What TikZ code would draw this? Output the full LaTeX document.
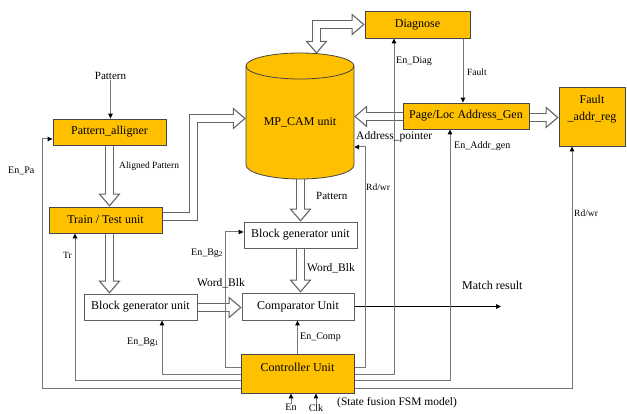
\documentclass[tikz,border=0pt]{standalone}
\usepackage{fontspec}
\setmainfont{Liberation Serif}
\usetikzlibrary{arrows.meta,calc,backgrounds}
\definecolor{boxfill}{RGB}{255,192,0}
\definecolor{edgecol}{RGB}{70,70,70}
\definecolor{wirecol}{RGB}{120,120,120}
\definecolor{hcol}{RGB}{100,100,100}
\tikzset{
 ybox/.style={draw=edgecol, fill=boxfill, line width=0.8pt, inner sep=0pt, font=\fontsize{12}{14}\selectfont},
 wbox/.style={draw=gray!75!black, fill=white, line width=0.8pt, inner sep=0pt, font=\fontsize{12}{14}\selectfont},
 lbl/.style={inner sep=0pt, font=\fontsize{10}{12}\selectfont},
 wire/.style={draw=wirecol, line width=1pt, -{Triangle[length=5pt,width=4.5pt,color=black]}},
 hhead/.style={draw=hcol, line width=1.1pt, -{Triangle[length=13pt,width=22pt,fill=white]}},
 hshaft/.style={draw=hcol, line width=1.1pt, double=white, double distance=6.6pt, line join=miter},
 hclean/.style={draw=white, line width=6.4pt, line join=miter},
}
% #1 path, #2 point before the end, #3 end point
\newcommand\harrow[3]{%
  \draw[hhead] ($(#3)!14pt!(#2)$) -- (#3);
  \draw[hshaft, shorten >=12.4pt] #1;
  \draw[hclean, shorten >=10pt] #1;}
% #1 path, #2 start, #3 point after start, #4 point before end, #5 end
\newcommand\hdarrow[5]{%
  \draw[hhead] ($(#2)!14pt!(#3)$) -- (#2);
  \draw[hhead] ($(#5)!14pt!(#4)$) -- (#5);
  \draw[hshaft, shorten >=12.4pt, shorten <=12.4pt] #1;
  \draw[hclean, shorten >=10pt, shorten <=10pt] #1;}
\begin{document}
\begin{tikzpicture}[x=1pt,y=-1pt]
\useasboundingbox (0,0) rectangle (627,414);

% cylinder (MP_CAM unit)
\fill[boxfill] (246,66) -- (246,165) arc[start angle=180,end angle=360,x radius=54pt,y radius=14pt]
  -- (354,66) arc[start angle=0,end angle=180,x radius=54pt,y radius=13pt] -- cycle;
\draw[edgecol,line width=0.8pt] (246,66) -- (246,165) arc[start angle=180,end angle=360,x radius=54pt,y radius=14pt] -- (354,66);
\draw[edgecol,line width=0.8pt] (300,66) ellipse[x radius=54pt,y radius=13pt];
\node[inner sep=0pt, minimum width=108pt, text height=73pt, text depth=53pt, font=\fontsize{12}{14}\selectfont] (cam) at (300,116) {MP\_CAM unit};

% boxes
\node[ybox, minimum width=105pt, minimum height=27pt] (diag) at (417.5,24.5) {Diagnose};
\node[ybox, minimum width=126pt, minimum height=26pt] (pag) at (466,116) {Page/Loc Address\_Gen};
\node[ybox, minimum width=66pt, minimum height=59pt] (far) at (592,116.5) {};
\node[inner sep=0pt, align=center, font=\fontsize{12}{17}\selectfont] (fartxt) at (592,109) {Fault\\\_addr\_reg};
\node[ybox, minimum width=113pt, minimum height=26pt] (pa) at (109.5,132) {Pattern\_alligner};
\node[ybox, minimum width=113pt, minimum height=26pt] (tt) at (105.5,220) {Train / Test unit};
\node[wbox, minimum width=113pt, minimum height=26pt] (bgl) at (140.5,307) {Block generator unit};
\node[wbox, minimum width=113pt, minimum height=26pt] (bgu) at (300.5,235) {Block generator unit};
\node[wbox, minimum width=112pt, minimum height=27pt] (cmp) at (298,306.5) {Comparator Unit};
\node[ybox, minimum width=113pt, text height=17pt, text depth=22pt] (ctl) at (297.5,373.5) {Controller Unit};

% corner and end coordinates
\coordinate (j1) at (193.5,118.5);
\coordinate (a1e) at (pa.south |- tt.north);
\coordinate (a2s) at ([yshift=3.5pt]tt.east);
\coordinate (a2e) at (j1 -| cam.west);
\coordinate (a3e) at ([xshift=16.5pt,yshift=-1pt]cam.north);
\coordinate (a3c) at (a3e |- diag.west);
\coordinate (a4s) at ([yshift=-0.5pt]pag.west);
\coordinate (a4e) at (a4s -| cam.east);
\coordinate (a5s) at ([yshift=-1.5pt]pag.east);
\coordinate (a5e) at (a5s -| far.west);
\coordinate (a6s) at ([yshift=4pt]cam.south -| bgu.north);
\coordinate (a7e) at (bgu.south |- cmp.north);
\coordinate (a8s) at (pa.south |- tt.south);
\coordinate (a8e) at (pa.south |- bgl.north);
\coordinate (a9s) at ([yshift=-0.5pt]bgl.east);
\coordinate (a9e) at (a9s -| cmp.west);
\coordinate (kpa) at (42,388);
\coordinate (ktr) at (75,380);
\coordinate (kb1) at (162,374);
\coordinate (kb2) at (225,367);
\coordinate (krw) at (365,367);
\coordinate (kap) at (365,147);
\coordinate (kdg) at (394,374);
\coordinate (kag) at (450,380);
\coordinate (kfr) at (572,388);
\coordinate (kfl) at (463,0);
\coordinate (mres) at (501,306.5);
\coordinate (ken) at (291,404);
\coordinate (kclk) at (316,404);

% labels
\node[lbl, font=\fontsize{11}{13}\selectfont] (ptn) at (110.5,76) {Pattern};
\node[lbl, anchor=west, font=\fontsize{9.5}{11}\selectfont] (lal) at (119,166) {Aligned Pattern};
\node[lbl, anchor=west] (lepa) at (8,171) {En\_Pa};
\node[lbl, anchor=west, font=\fontsize{9.5}{11}\selectfont] (ltr) at (63,255) {Tr};
\node[lbl, anchor=west] (lbg1) at (127,342) {En\_Bg\textsubscript{1}};
\node[lbl, anchor=west] (lbg2) at (191,253) {En\_Bg\textsubscript{2}};
\node[lbl, anchor=west, font=\fontsize{11.5}{13}\selectfont] (lwb1) at (197,283) {Word\_Blk};
\node[lbl, anchor=west, font=\fontsize{11}{13}\selectfont] (lpt2) at (316,196) {Pattern};
\node[lbl, anchor=west, font=\fontsize{11.5}{13}\selectfont] (lwb2) at (307,268) {Word\_Blk};
\node[lbl, anchor=west] (lcmp) at (300,337) {En\_Comp};
\node[lbl, anchor=west, font=\fontsize{12}{14}\selectfont] (lmr) at (462,285) {Match result};
\node[lbl, anchor=west, font=\fontsize{9.5}{11}\selectfont] (lrw1) at (574,213) {Rd/wr};
\node[lbl, anchor=west, font=\fontsize{9.5}{11}\selectfont] (lrw2) at (366,187) {Rd/wr};
\node[lbl, anchor=west, font=\fontsize{11.5}{13}\selectfont] (lap) at (356,137) {Address\_pointer};
\node[lbl, anchor=west] (ldg) at (396,61) {En\_Diag};
\node[lbl, anchor=west, font=\fontsize{9.5}{11}\selectfont] (lfl) at (467,72) {Fault};
\node[lbl, anchor=west] (lag) at (454,146) {En\_Addr\_gen};
\node[lbl, anchor=west, font=\fontsize{11.5}{13}\selectfont] (lst) at (337,403) {(State fusion FSM model)};
\node[lbl, anchor=north, font=\fontsize{10}{12}\selectfont] (len) at (ken) {En};
\node[lbl, anchor=north, font=\fontsize{10}{12}\selectfont] (lclk) at (kclk) {Clk};

\begin{pgfonlayer}{background}
% hollow arrows
\harrow{(pa.south) -- (a1e)}{pa.south}{a1e}
\harrow{(a2s) -| (j1) -- (a2e)}{j1}{a2e}
\hdarrow{(diag.west) -- (a3c) -- (a3e)}{diag.west}{a3c}{a3c}{a3e}
\harrow{(a4s) -- (a4e)}{a4s}{a4e}
\harrow{(a5s) -- (a5e)}{a5s}{a5e}
\harrow{(a6s) -- (bgu.north)}{a6s}{bgu.north}
\harrow{(bgu.south) -- (a7e)}{bgu.south}{a7e}
\harrow{(a8s) -- (a8e)}{a8s}{a8e}
\harrow{(a9s) -- (a9e)}{a9s}{a9e}

% thin wires
\draw[wire] (ptn.south) -- (ptn.south |- pa.north);
\draw[wire] (kpa -| ctl.west) -- (kpa) |- ([yshift=-7pt]pa.west);
\draw[wire] (ktr -| ctl.west) -- (ktr) -- (ktr |- tt.south);
\draw[wire] (kb1 -| ctl.west) -- (kb1) -- (kb1 |- bgl.south);
\draw[wire] (kb2 -| ctl.west) -- (kb2) |- ([yshift=3pt]bgu.west);
\draw[wire] (ctl.north) -- (ctl.north |- cmp.south);
\draw[wire, draw=black] (cmp.east) -- (mres);
\draw[wire] (krw -| ctl.east) -- (krw) -- (kap) -- (kap -| cam.east);
\draw[wire] (kdg -| ctl.east) -- (kdg) -- (kdg |- diag.south);
\draw[wire] (kag -| ctl.east) -- (kag) -- (kag |- pag.south);
\draw[wire] (kfr -| ctl.east) -- (kfr) -- (kfr |- far.south);
\draw[wire] (kfl |- diag.south) -- (kfl |- pag.north);
\draw[wire] (ken) -- (ken |- ctl.south);
\draw[wire] (kclk) -- (kclk |- ctl.south);
\end{pgfonlayer}
\end{tikzpicture}
\end{document}
